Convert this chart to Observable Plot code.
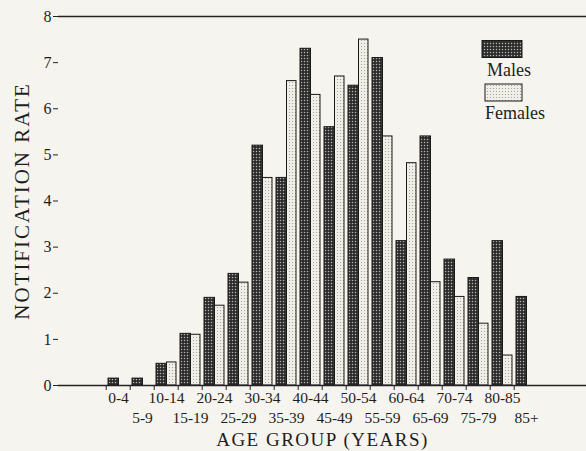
<!DOCTYPE html>
<html><head><meta charset="utf-8">
<script src="https://cdn.jsdelivr.net/npm/d3@7"></script>
<script src="https://cdn.jsdelivr.net/npm/@observablehq/plot@0.6"></script>
<style>
body{margin:0;background:#f6f4ee;}
#wrap{position:relative;width:586px;height:451px;font-family:"Liberation Serif",serif;color:#1e1e1e;}
#legend{position:absolute;left:0;top:0;}
.spaced{letter-spacing:2px;}
.spaced2{letter-spacing:1.5px;}
</style></head><body><div id="wrap"></div>
<script>
const ageGroups = ["0-4","5-9","10-14","15-19","20-24","25-29","30-34","35-39","40-44","45-49","50-54","55-59","60-64","65-69","70-74","75-79","80-85","85+"];
const males   = [0.15,0.15,0.47,1.12,1.9,2.42,5.2,4.5,7.3,5.6,6.5,7.1,3.13,5.4,2.73,2.33,3.13,1.92];
const females = [0,0,0.5,1.1,1.73,2.23,4.5,6.6,6.3,6.7,7.5,5.4,4.82,2.24,1.92,1.34,0.65,0];
const yTicks = [0,1,2,3,4,5,6,7,8];
const seriesNames = ["Males","Females"];

const rows = ageGroups.map((age,i)=>({age, male: males[i], female: females[i]}));
const evenLabels = ageGroups.filter((d,i)=>i%2===0);
const oddLabels = ageGroups.filter((d,i)=>i%2===1);

const chart = Plot.plot({
  width: 586, height: 451,
  marginLeft: 58, marginRight: 0, marginTop: 16, marginBottom: 66,
  style: {background: "transparent", fontFamily: "Liberation Serif, serif", color: "#1e1e1e"},
  x: {domain: ageGroups, paddingInner: 0.187, paddingOuter: 1.83, axis: null},
  y: {domain: [0, 8], axis: null},
  marks: [
    Plot.barY(rows, {x: "age", y: "male", insetRight: 9.5, fill: "url(#pm)", stroke: "#1a1a1a", strokeWidth: 1}),
    Plot.barY(rows, {x: "age", y: "female", insetLeft: 10.5, fill: "url(#pf)", stroke: "#1a1a1a", strokeWidth: 1,
      filter: d => d.female > 0}),
    Plot.ruleY([0, 8], {stroke: "#222", strokeWidth: 1.3}),
    Plot.axisY(yTicks, {anchor: "left", tickSize: 5, tickPadding: 2, fontSize: 16, label: null, line: true, stroke: "#222"}),
    Plot.axisX({ticks: ageGroups, tickSize: 5, text: null, dx: -12.3, label: null, stroke: "#222"}),
    Plot.axisX(evenLabels, {tickSize: 0, tickPadding: 6, fontSize: 15.5, label: null}),
    Plot.axisX(oddLabels, {tickSize: 0, tickPadding: 26, fontSize: 15.5, label: null}),
    Plot.text(["AGE GROUP (YEARS)"], {frameAnchor: "bottom", dy: 60, lineAnchor: "bottom", textAnchor: "middle", fontSize: 19, className: "spaced2"}),
    Plot.text(["NOTIFICATION RATE"], {frameAnchor: "left", dx: -36, rotate: -90, textAnchor: "middle", fontSize: 21, className: "spaced"})
  ]
});

const defs = `<defs>
<pattern id="pm" width="3" height="3" patternUnits="userSpaceOnUse">
<rect width="3" height="3" fill="#2c2c2c"/><circle cx="1.5" cy="1.5" r="0.75" fill="#b8b8b0"/></pattern>
<pattern id="pf" width="3" height="3" patternUnits="userSpaceOnUse">
<rect width="3" height="3" fill="#f0efe8"/><circle cx="1.5" cy="1.5" r="0.6" fill="#9a9a94"/></pattern>
</defs>`;
chart.insertAdjacentHTML("afterbegin", defs);

const wrap = document.getElementById("wrap");
wrap.appendChild(chart);

// legend
const legend = document.createElementNS("http://www.w3.org/2000/svg","svg");
legend.setAttribute("id","legend");
legend.setAttribute("width","586");
legend.setAttribute("height","451");
const fills = ["url(#pm)","url(#pf)"];
const ls = d3.select(legend);
seriesNames.forEach((name,i)=>{
  ls.append("rect").attr("x", 482 + i*3).attr("y", 40.5 + i*43.5).attr("width", 40 - i*3).attr("height", 17)
    .attr("fill", fills[i]).attr("stroke", "#1a1a1a");
  ls.append("text").attr("x", 487 - i*2).attr("y", 76 + i*43).attr("font-size", 18)
    .attr("font-family","Liberation Serif, serif").attr("fill","#1e1e1e").text(name);
});
wrap.appendChild(legend);
</script></body></html>
